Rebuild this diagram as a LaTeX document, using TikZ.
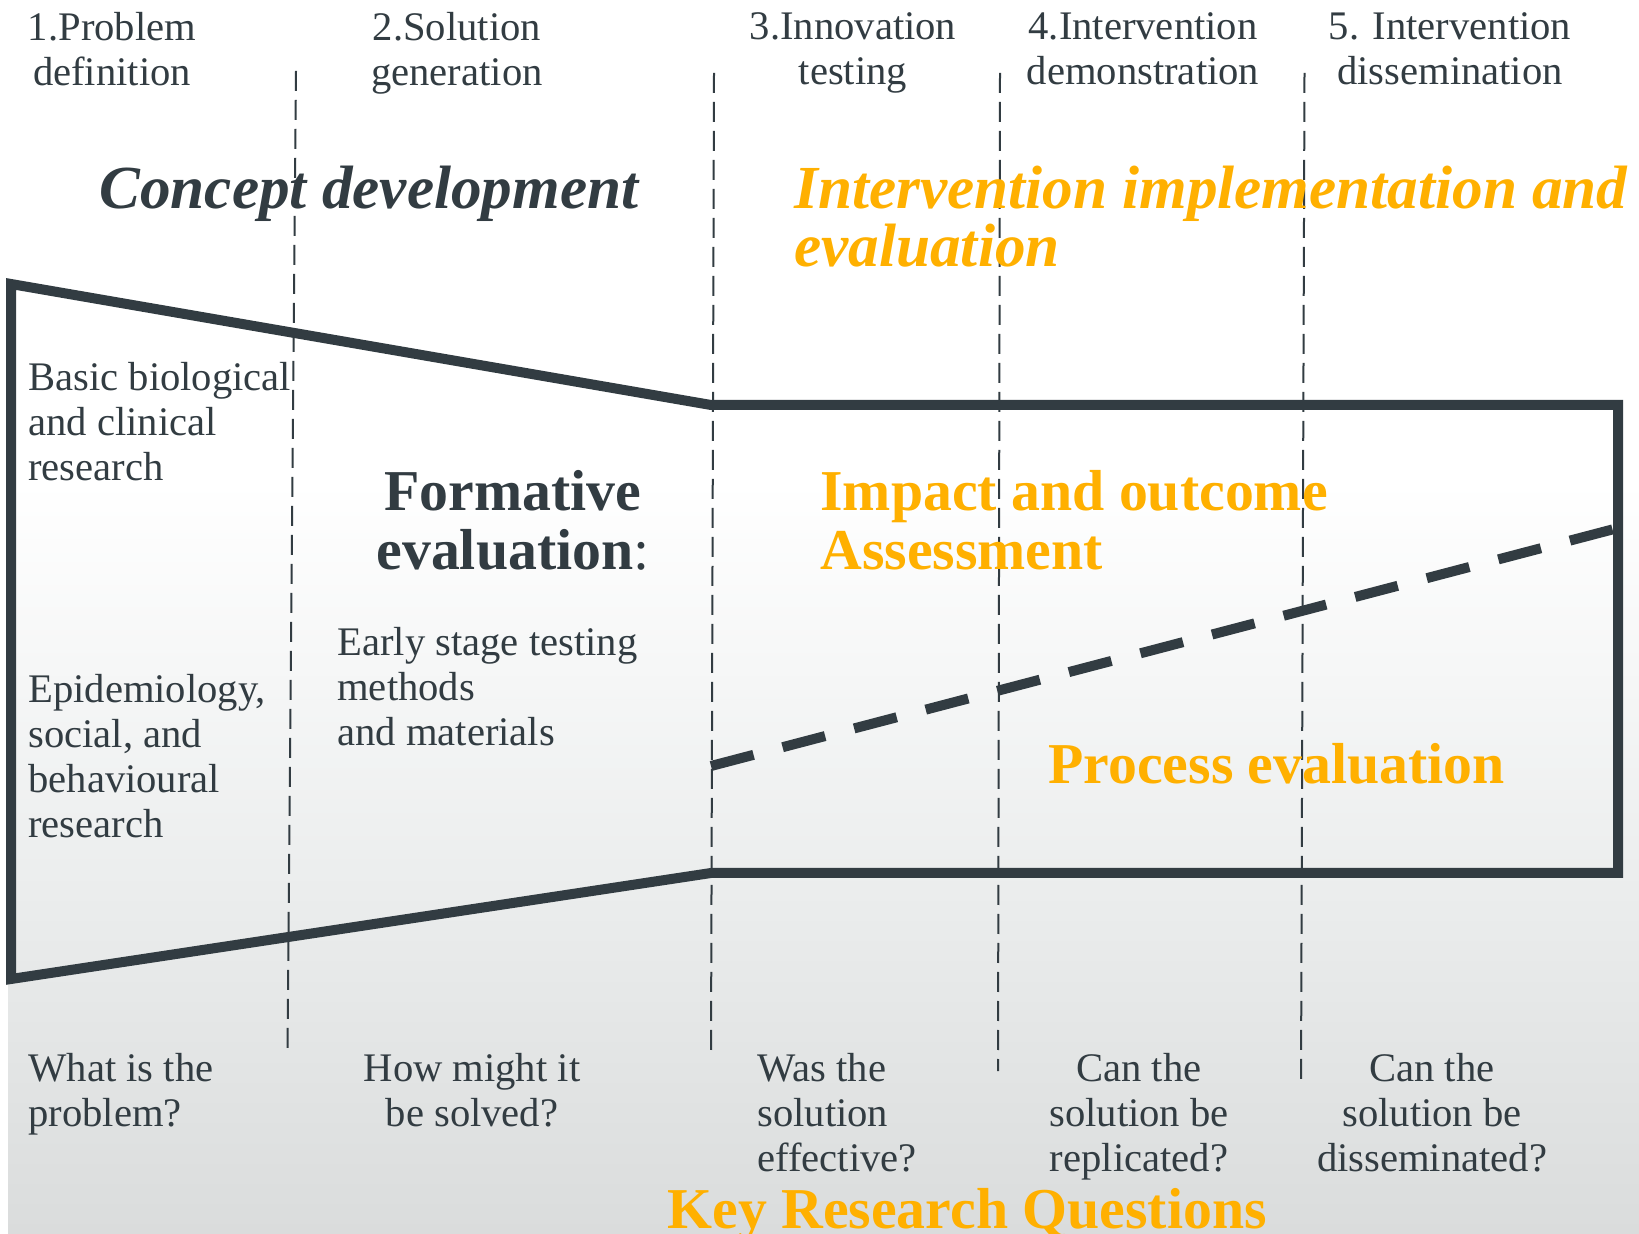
\documentclass[tikz,border=0pt]{standalone}
\usepackage{fontspec}
\setmainfont{Liberation Serif}
\definecolor{dk}{RGB}{50,60,66}
\definecolor{org}{RGB}{255,176,0}
\definecolor{bgbot}{RGB}{218,220,220}
\definecolor{bgmid}{RGB}{236,238,238}
\pgfdeclareverticalshading{bgshade}{100bp}{color(0bp)=(bgbot); color(25bp)=(bgbot); color(39.75bp)=(bgmid); color(55.5bp)=(white); color(100bp)=(white)}
\tikzset{
  funnel/.style={draw=dk, line width=5pt, line join=miter},
  vdash/.style={draw=dk, line width=1pt, dash pattern=on 10pt off 4.5pt},
  thickdash/.style={draw=dk, line width=5pt, dash pattern=on 22pt off 15pt},
  txt/.style={inner sep=0pt, text=dk, font=\fontsize{20.3}{22.5}\selectfont},
  hdr/.style={txt, align=center, anchor=north},
  lft/.style={txt, align=left, anchor=north west},
  ctr/.style={txt, align=center, anchor=north},
  bigbi/.style={inner sep=0pt, anchor=north west, align=left, font=\fontsize{30.6}{28.7}\selectfont\bfseries\itshape},
  bigb/.style={inner sep=0pt, font=\fontsize{28.9}{29.3}\selectfont\bfseries}
}
\begin{document}
\begin{tikzpicture}[x=0.5pt,y=-0.5pt]
\useasboundingbox (0,0) rectangle (1639,1234);
\shade[shading=bgshade] (8,0) rectangle (1639,1234);

% vertical dashed separators
\coordinate (v1t) at (296,71);   \coordinate (v1b) at (287.5,1054);
\coordinate (v2t) at (714,73);   \coordinate (v2b) at (711,1056);
\coordinate (v3t) at (1000,73);  \coordinate (v3b) at (998,1071);
\coordinate (v4t) at (1304.5,73);\coordinate (v4b) at (1301,1084);
\draw[vdash] (v1t) -- (v1b);
\draw[vdash] (v2t) -- (v2b);
\draw[vdash] (v3t) -- (v3b);
\draw[vdash] (v4t) -- (v4b);

% funnel outline
\coordinate (ftl) at (11,284);
\coordinate (fmt) at (711,405);
\coordinate (frt) at (1618,405);
\coordinate (frb) at (1618,873);
\coordinate (fmb) at (711,873);
\coordinate (fbl) at (11,979);
\draw[funnel] (ftl) -- (fmt) -- (frt) -- (frb) -- (fmb) -- (fbl) -- cycle;

% thick dashed divider
\coordinate (d1) at (711,766);
\coordinate (d2) at (1618,528);
\draw[thickdash] (d1) -- (d2);

% headers
\node[hdr] (h1) at (112,12) {1.Problem\\definition};
\node[hdr] (h2) at (457,12) {2.Solution\\generation};
\node[hdr] (h3) at (853,12) {3.Innovation\\testing};
\node[hdr] (h4) at (1143,12) {4.Intervention\\demonstration};
\node[hdr] (h5) at (1450,12) {5. Intervention\\dissemination};

% big titles
\node[bigbi, text=dk] (cd) at (99,166) {Concept development};
\node[bigbi, text=org] (iie) at (794,166) {Intervention implementation and\\evaluation};

% left column texts
\node[lft] (bbc) at (28,362) {Basic biological\\and clinical\\research};
\node[lft] (epi) at (28,674) {Epidemiology,\\social, and\\behavioural\\research};

% formative
\node[bigb, text=dk, align=center, anchor=north] (form) at (513,470) {Formative\\evaluation{\mdseries :}};
\node[lft] (early) at (337,627) {Early stage testing\\methods\\and materials};

% orange labels
\node[bigb, text=org, align=left, anchor=north west] (imp) at (820,470) {Impact and outcome\\Assessment};
\node[bigb, text=org, anchor=north west] (proc) at (1048,743) {Process evaluation};

% questions
\node[lft] (q1) at (28,1053) {What is the\\problem?};
\node[ctr] (q2) at (472,1053) {How might it\\be solved?};
\node[lft] (q3) at (757,1053) {Was the\\solution\\effective?};
\node[ctr] (q4) at (1139,1053) {Can the\\solution be\\replicated?};
\node[ctr] (q5) at (1432,1053) {Can the\\solution be\\disseminated?};
\node[bigb, text=org, anchor=north west] (krq) at (667,1188) {Key Research Questions};
\end{tikzpicture}
\end{document}
